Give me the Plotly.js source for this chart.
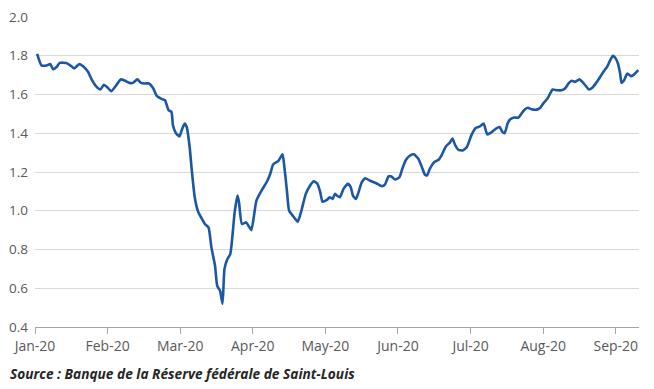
<!DOCTYPE html>
<html>
<head>
<meta charset="utf-8">
<script src="https://cdn.plot.ly/plotly-3.0.1.min.js"></script>
<style>
  html, body { margin: 0; padding: 0; background: #ffffff; }
  #chart { width: 654px; height: 389px; }
</style>
</head>
<body>
<div id="chart"></div>
<script>
// Time position in months since 1 Jan 2020 (0 = Jan-20, 1 = Feb-20, ...)
const monthPos = [
  0.03, 0.09, 0.16, 0.21, 0.25, 0.30, 0.34, 0.43, 0.48, 0.54,
  0.61, 0.67, 0.73, 0.78, 0.84, 0.90, 0.95, 1.00, 1.05, 1.12,
  1.18, 1.24, 1.30, 1.35, 1.41, 1.46, 1.52, 1.57, 1.63, 1.68,
  1.75, 1.79, 1.84, 1.88, 1.90, 1.94, 1.99, 2.02, 2.06, 2.09,
  2.13, 2.16, 2.20, 2.25, 2.30, 2.34, 2.39, 2.43, 2.48, 2.51,
  2.55, 2.583, 2.61, 2.65, 2.69, 2.72, 2.75, 2.79, 2.81, 2.85,
  2.91, 2.94, 2.98, 3.05, 3.12, 3.19, 3.24, 3.28, 3.35, 3.38,
  3.41, 3.43, 3.47, 3.50, 3.56, 3.62, 3.67, 3.73, 3.79, 3.84,
  3.89, 3.93, 3.96, 4.02, 4.06, 4.10, 4.13, 4.16, 4.20, 4.25,
  4.31, 4.35, 4.38, 4.42, 4.45, 4.50, 4.55, 4.61, 4.70, 4.78,
  4.82, 4.87, 4.91, 4.96, 5.02, 5.06, 5.11, 5.17, 5.22, 5.28,
  5.33, 5.37, 5.40, 5.44, 5.50, 5.56, 5.60, 5.66, 5.72, 5.75,
  5.79, 5.83, 5.89, 5.95, 6.01, 6.07, 6.13, 6.18, 6.23, 6.29,
  6.35, 6.40, 6.44, 6.47, 6.51, 6.54, 6.60, 6.66, 6.70, 6.75,
  6.79, 6.84, 6.91, 6.96, 7.00, 7.06, 7.09, 7.13, 7.19, 7.25,
  7.30, 7.35, 7.39, 7.44, 7.50, 7.54, 7.59, 7.63, 7.68, 7.73,
  7.78, 7.84, 7.88, 7.92, 7.96, 7.99, 8.03, 8.06, 8.08, 8.11,
  8.16, 8.21, 8.24, 8.31
];

// Rate values (%)
const rateValues = [
  1.81, 1.75, 1.75, 1.757, 1.73, 1.743, 1.763, 1.763, 1.752, 1.735,
  1.757, 1.743, 1.717, 1.678, 1.643, 1.626, 1.65, 1.636, 1.617, 1.648,
  1.678, 1.671, 1.66, 1.66, 1.678, 1.66, 1.657, 1.657, 1.631, 1.591,
  1.576, 1.571, 1.519, 1.51, 1.441, 1.401, 1.384, 1.415, 1.45, 1.432,
  1.329, 1.208, 1.07, 0.992, 0.958, 0.932, 0.914, 0.811, 0.716, 0.612,
  0.586, 0.52, 0.70, 0.751, 0.776, 0.871, 0.992, 1.078, 1.044, 0.932,
  0.94, 0.923, 0.90, 1.052, 1.104, 1.147, 1.19, 1.239, 1.256, 1.274,
  1.291, 1.243, 1.104, 1.001, 0.97, 0.944, 1.001, 1.087, 1.13, 1.152,
  1.139, 1.095, 1.047, 1.056, 1.07, 1.061, 1.087, 1.078, 1.07, 1.113,
  1.139, 1.121, 1.078, 1.061, 1.087, 1.147, 1.168, 1.156, 1.142, 1.127,
  1.135, 1.177, 1.177, 1.161, 1.173, 1.217, 1.263, 1.286, 1.291, 1.268,
  1.225, 1.187, 1.182, 1.217, 1.251, 1.263, 1.286, 1.332, 1.354, 1.372,
  1.337, 1.315, 1.311, 1.329, 1.389, 1.427, 1.436, 1.45, 1.394, 1.406,
  1.424, 1.432, 1.406, 1.401, 1.45, 1.47, 1.481, 1.481, 1.501, 1.524,
  1.532, 1.524, 1.522, 1.532, 1.553, 1.579, 1.601, 1.626, 1.622, 1.622,
  1.631, 1.657, 1.671, 1.665, 1.678, 1.665, 1.643, 1.626, 1.636, 1.66,
  1.688, 1.722, 1.743, 1.774, 1.80, 1.791, 1.76, 1.708, 1.66, 1.671,
  1.708, 1.695, 1.70, 1.726
];

const monthTickPos = [0, 1, 2, 3, 4, 5, 6, 7, 8];
const monthTickLabels = ['Jan-20', 'Feb-20', 'Mar-20', 'Apr-20', 'May-20', 'Jun-20', 'Jul-20', 'Aug-20', 'Sep-20'];
const sourceText = 'Source : Banque de la Réserve fédérale de Saint-Louis';

const trace = {
  x: monthPos,
  y: rateValues,
  type: 'scatter',
  mode: 'lines',
  line: { color: '#1c57a5', width: 2.6, shape: 'spline', smoothing: 0.5 },
  hoverinfo: 'skip'
};

const layout = {
  width: 654,
  height: 389,
  margin: { l: 35, r: 15, t: 17, b: 62 },
  paper_bgcolor: '#ffffff',
  plot_bgcolor: '#ffffff',
  showlegend: false,
  font: { family: 'Open Sans, sans-serif', size: 14, color: '#595959' },
  xaxis: {
    type: 'linear',
    range: [0, 8.32],
    tickmode: 'array',
    tickvals: monthTickPos,
    ticktext: monthTickLabels,
    showgrid: false,
    zeroline: false,
    showline: true,
    linecolor: '#a6a6a6',
    linewidth: 1.3,
    ticks: 'outside',
    ticklen: 6,
    tickcolor: '#a6a6a6',
    tickwidth: 1,
    tickfont: { family: 'Open Sans, sans-serif', size: 14, color: '#595959' },
    fixedrange: true
  },
  yaxis: {
    range: [0.4, 2.0],
    tick0: 0.4,
    dtick: 0.2,
    tickformat: '.1f',
    showgrid: true,
    gridcolor: '#d9d9d9',
    gridwidth: 1,
    zeroline: false,
    showline: false,
    ticks: '',
    ticklabelstandoff: 6,
    tickfont: { family: 'Open Sans, sans-serif', size: 13.5, color: '#595959' },
    fixedrange: true
  },
  annotations: [{
    text: '<b><i>' + sourceText + '</i></b>',
    xref: 'paper', yref: 'paper',
    x: -0.045, y: -0.15,
    xanchor: 'left', yanchor: 'middle',
    showarrow: false,
    font: { family: 'Open Sans, sans-serif', size: 13.7, color: '#262626' }
  }]
};

Plotly.newPlot('chart', [trace], layout, { displayModeBar: false, staticPlot: true });
</script>
</body>
</html>
